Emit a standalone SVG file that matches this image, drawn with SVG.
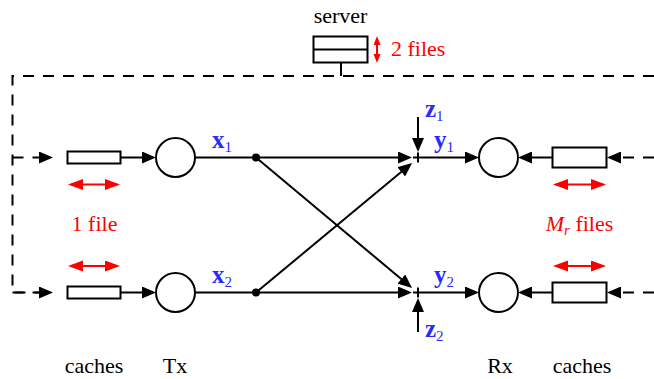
<svg xmlns="http://www.w3.org/2000/svg" width="654" height="379" viewBox="0 0 654 379">
<style>
  .ln { stroke:#000; stroke-width:2; fill:none; }
  .dash { stroke:#000; stroke-width:2; fill:none; stroke-dasharray:11 9; }
  .red { stroke:#ff0000; stroke-width:2; fill:none; }
  .box { stroke:#000; stroke-width:2; fill:#fff; }
  text { font-family:'Liberation Serif','DejaVu Serif','Times New Roman',serif; font-size:22px; }
  .t { fill:#000; }
  .tr { fill:#ff0000; }
  .tb { font-weight:bold; font-size:25px; fill:#2a2aff; }
  .sub { font-size:15px; font-weight:normal; }
</style>
<defs>
  <marker id="ah" markerUnits="userSpaceOnUse" markerWidth="15" markerHeight="12" refX="10" refY="6" orient="auto">
    <path d="M0,0 L14,6 L0,12 Z" fill="#000"/>
  </marker>
  <marker id="rh" markerUnits="userSpaceOnUse" markerWidth="16" markerHeight="12" refX="12" refY="5.5" orient="auto-start-reverse">
    <path d="M0,0 L15,5.5 L0,11 Z" fill="#ff0000"/>
  </marker>
  <marker id="rs" markerUnits="userSpaceOnUse" markerWidth="10" markerHeight="8" refX="6" refY="3.5" orient="auto-start-reverse">
    <path d="M0,0 L9,3.5 L0,7 Z" fill="#ff0000"/>
  </marker>
</defs>

<g id="connectors">
  <path class="dash" d="M654 76 H12.5 V292.5 H49"/>
  <path class="dash" d="M12.5 157.5 H49" marker-end="url(#ah)"/>
  <path class="dash" d="M12.5 292.5 H49" marker-end="url(#ah)"/>
  <path class="ln" d="M341 63 V76"/>
  <path class="dash" d="M654 157.5 H611" marker-end="url(#ah)"/>
  <path class="dash" d="M654 292.5 H611" marker-end="url(#ah)"/>
  <path class="ln" d="M121 157.5 H152" marker-end="url(#ah)"/>
  <path class="ln" d="M121 292.5 H152" marker-end="url(#ah)"/>
  <path class="ln" d="M195 157.5 H256"/>
  <path class="ln" d="M195 292.5 H256"/>
  <path class="ln" d="M256 157.5 H408" marker-end="url(#ah)"/>
  <path class="ln" d="M256 292.5 H408" marker-end="url(#ah)"/>
  <path class="ln" d="M256 157.5 L409 285.5" marker-end="url(#ah)"/>
  <path class="ln" d="M256 292.5 L409 165.5" marker-end="url(#ah)"/>
  <path class="ln" d="M418 117 V148" marker-end="url(#ah)"/>
  <path class="ln" d="M418 332 V302" marker-end="url(#ah)"/>
  <path class="ln" d="M423 157.5 H475" marker-end="url(#ah)"/>
  <path class="ln" d="M423 292.5 H475" marker-end="url(#ah)"/>
  <path class="ln" d="M552 157.5 H522" marker-end="url(#ah)"/>
  <path class="ln" d="M552 292.5 H522" marker-end="url(#ah)"/>
  <path class="red" d="M71 184.5 H117" marker-start="url(#rh)" marker-end="url(#rh)"/>
  <path class="red" d="M71 266 H117" marker-start="url(#rh)" marker-end="url(#rh)"/>
  <path class="red" d="M556 184.5 H603" marker-start="url(#rh)" marker-end="url(#rh)"/>
  <path class="red" d="M556 266 H603" marker-start="url(#rh)" marker-end="url(#rh)"/>
  <path class="red" d="M377 39 V60" marker-start="url(#rs)" marker-end="url(#rs)"/>
</g>

<g id="server">
  <rect class="box" x="313.5" y="36.5" width="54" height="26"/>
  <path class="ln" d="M313.5 49.5 H367.5"/>
  <text class="t" x="340.5" y="23" text-anchor="middle">server</text>
  <text class="tr" x="391" y="56">2 files</text>
</g>

<g id="cache-tx1"><rect class="box" x="67.5" y="151.5" width="53" height="12"/></g>
<g id="cache-tx2"><rect class="box" x="67.5" y="286.5" width="53" height="12"/></g>
<g id="tx1"><circle class="box" cx="175.5" cy="157.5" r="19.5"/></g>
<g id="tx2"><circle class="box" cx="175.5" cy="292.5" r="19.5"/></g>
<g id="node1"><circle cx="256" cy="157.5" r="4" fill="#000"/></g>
<g id="node2"><circle cx="256" cy="292.5" r="4" fill="#000"/></g>
<g id="sum1"><path class="ln" d="M413 157.5 H423 M418 152.5 V162.5" stroke-width="1.5"/></g>
<g id="sum2"><path class="ln" d="M413 292.5 H423 M418 287.5 V297.5" stroke-width="1.5"/></g>
<g id="rx1"><circle class="box" cx="498.5" cy="157.5" r="19.5"/></g>
<g id="rx2"><circle class="box" cx="498.5" cy="292.5" r="19.5"/></g>
<g id="cache-rx1"><rect class="box" x="552.5" y="147.5" width="54" height="20"/></g>
<g id="cache-rx2"><rect class="box" x="552.5" y="282.5" width="54" height="20"/></g>

<g id="labels">
  <text class="tb" x="212" y="148">x<tspan class="sub" dy="4">1</tspan></text>
  <text class="tb" x="212" y="283">x<tspan class="sub" dy="4">2</tspan></text>
  <text class="tb" x="434" y="148">y<tspan class="sub" dy="4">1</tspan></text>
  <text class="tb" x="434" y="283">y<tspan class="sub" dy="4">2</tspan></text>
  <text class="tb" x="425" y="117">z<tspan class="sub" dy="4">1</tspan></text>
  <text class="tb" x="425" y="337">z<tspan class="sub" dy="4">2</tspan></text>
  <text class="tr" x="94.5" y="231" text-anchor="middle">1 file</text>
  <text class="tr" x="579.5" y="231" text-anchor="middle"><tspan font-style="italic">M</tspan><tspan font-style="italic" font-size="15px" dy="4">r</tspan><tspan dy="-4"> files</tspan></text>
  <text class="t" x="94" y="373" text-anchor="middle">caches</text>
  <text class="t" x="175" y="373" text-anchor="middle">Tx</text>
  <text class="t" x="500" y="373" text-anchor="middle">Rx</text>
  <text class="t" x="582" y="373" text-anchor="middle">caches</text>
</g>
</svg>
